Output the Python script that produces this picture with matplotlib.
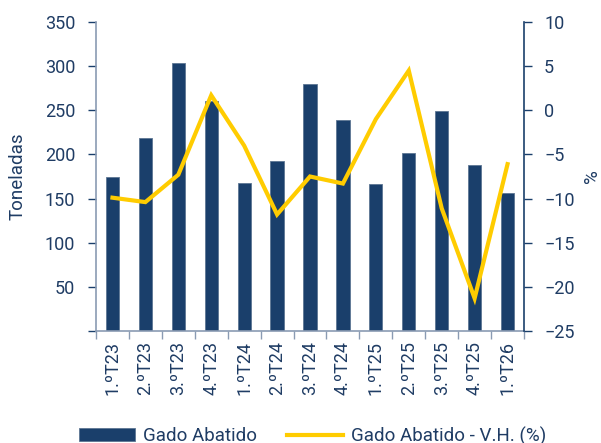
import matplotlib
matplotlib.use("Agg")
import matplotlib.pyplot as plt
import numpy as np

categories = ["1.ºT23", "2.ºT23", "3.ºT23", "4.ºT23", "1.ºT24", "2.ºT24", "3.ºT24",
              "4.ºT24", "1.ºT25", "2.ºT25", "3.ºT25", "4.ºT25", "1.ºT26"]
gado_abatido = [175, 219, 303, 260, 168, 193, 280, 239, 166, 202, 249, 188, 156]
variacao_homologa = [-9.9, -10.4, -7.3, 1.7, -4.0, -11.8, -7.5, -8.3, -1.0, 4.5, -11.1, -21.3, -6.1]
left_ticks = [0, 50, 100, 150, 200, 250, 300, 350]
left_labels = ["", "50", "100", "150", "200", "250", "300", "350"]
right_ticks = [-25, -20, -15, -10, -5, 0, 5, 10]

plt.rcParams['font.family'] = ['Roboto', 'DejaVu Sans']
navy = "#1a3f6b"
text_c = "#1f3c64"
gold = "#ffcc00"
grey = "#8a9bb3"
fs = 13

fig = plt.figure(figsize=(6.01, 4.43), dpi=100)
ax = fig.add_axes([96/601, 1-331/443, (524-96)/601, (331-22)/443])
x = np.arange(len(categories))
b = ax.bar(x, gado_abatido, width=0.4, color=navy, edgecolor="#5d7693", linewidth=0.6,
           label="Gado Abatido", zorder=2)
ax.set_xlim(-0.5, len(categories) - 0.5)
ax.set_ylim(0, 350)
ax.set_yticks(left_ticks)
ax.set_yticklabels(left_labels)
ax.set_xticks(x)
ax.set_xticklabels(categories, rotation=90)
ax.set_xticks(np.arange(-0.5, len(categories)), minor=True)
ax.tick_params(axis='x', which='major', length=0, pad=7, labelsize=fs, labelcolor=text_c)
ax.tick_params(axis='x', which='minor', length=6, color=grey, width=1)
ax.tick_params(axis='y', length=6, color=navy, width=1, labelsize=fs, labelcolor=text_c, pad=9)
ax.set_ylabel("Toneladas", fontsize=13.5, color=text_c)
ax.yaxis.set_label_coords(-0.162, 0.5)
for s in ["top", "right"]:
    ax.spines[s].set_visible(False)
ax.spines["left"].set_color(grey)
ax.spines["left"].set_linewidth(1.2)
ax.spines["bottom"].set_color(grey)
ax.spines["bottom"].set_linewidth(1.2)

ax2 = ax.twinx()
ln, = ax2.plot(x, variacao_homologa, color=gold, linewidth=3.0, label="Gado Abatido - V.H. (%)",
               zorder=3, solid_joinstyle='miter')
ax2.set_ylim(-25, 10)
ax2.set_yticks(right_ticks)
ax2.tick_params(axis='y', length=6, color=navy, width=1, labelsize=fs, labelcolor=text_c, pad=8.5)
ax2.set_ylabel("%", fontsize=13.5, color=text_c)
ax2.yaxis.set_label_coords(1.138, 0.5)
for s in ["top", "left", "bottom"]:
    ax2.spines[s].set_visible(False)
ax2.spines["right"].set_color(navy)
ax2.spines["right"].set_linewidth(1.2)

fig.legend([b, ln], ["Gado Abatido", "Gado Abatido - V.H. (%)"], loc="center",
           bbox_to_anchor=(0.52, 0.016), ncol=2, frameon=False, fontsize=13.5,
           labelcolor=text_c, handlelength=3.0, handletextpad=0.4, columnspacing=1.6)

fig.savefig("out.png", dpi=100)
